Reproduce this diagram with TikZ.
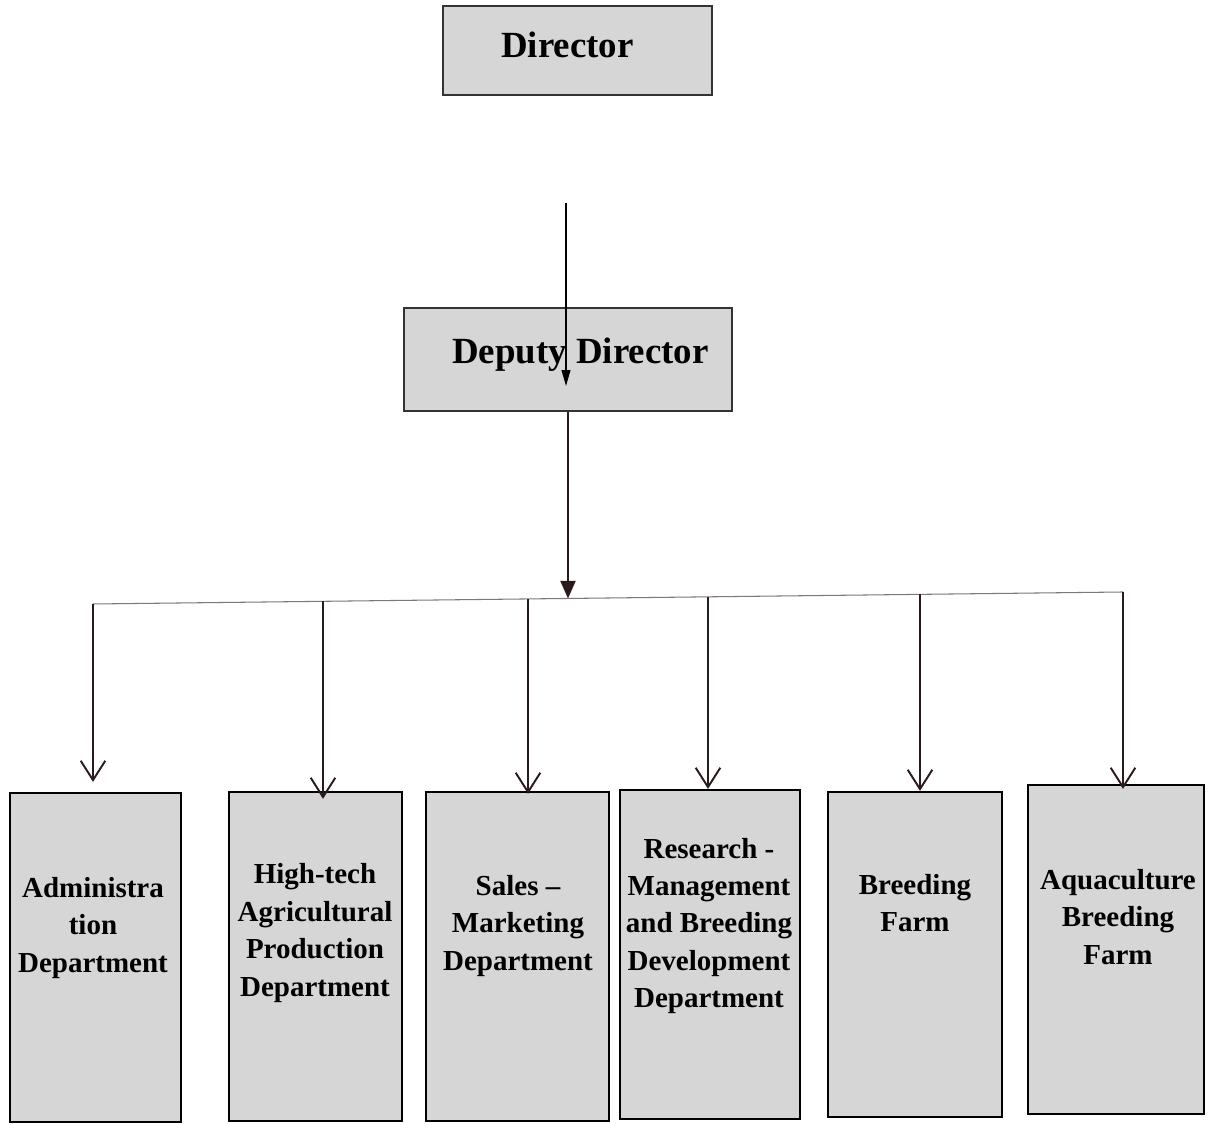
\documentclass[tikz,border=0pt]{standalone}
\usepackage{fontspec}
\setmainfont{Liberation Serif}
\usepackage{xcolor}
\definecolor{boxgray}{HTML}{D6D6D6}
\definecolor{linegray}{HTML}{7A7A7A}
\definecolor{darkline}{HTML}{2A1A1C}
\usepackage{tikz}
\usetikzlibrary{arrows.meta}
\usetikzlibrary{positioning}

\begin{document}
\begin{tikzpicture}[x=.02cm,y=-.02cm,
  headbox/.style={draw=black!80,line width=.8pt,fill=boxgray,inner sep=0pt,font=\bfseries\fontsize{21}{25}\selectfont},
  deptbox/.style={draw=black,line width=1.3pt,fill=boxgray,inner sep=0pt},
  depttext/.style={align=center,inner sep=0pt,font=\bfseries\fontsize{16.5}{21.3}\selectfont},
  branch/.style={darkline,line width=1.1pt,-{Straight Barb[length=11pt,width=14pt,line width=1.1pt]}}]
\useasboundingbox (0,0) rectangle (1208,1124);
\node[headbox,minimum width=5.38cm,minimum height=1.78cm] (dir) at (577.5,50.5) {\raisebox{7pt}{Director}\hspace*{.4cm}};
\node[headbox,minimum width=6.56cm,minimum height=2.06cm] (dep) at (568,359.5) {\hspace*{.5cm}\raisebox{10pt}{Deputy Director}};
\coordinate (top) at (566,203);
\coordinate (depin) at (566,386);
\coordinate (hub) at (568,598.5);
\coordinate (b1) at (93,604);
\coordinate (b2) at (323,601.3);
\coordinate (b3) at (528,598.9);
\coordinate (b4) at (708,596.8);
\coordinate (b5) at (920,594.4);
\coordinate (b6) at (1123,592);
\node[deptbox,minimum width=3.42cm,minimum height=6.58cm] (adm) at (95.5,957.5) {};
\node[deptbox,minimum width=3.46cm,minimum height=6.58cm] (hitech) at (315.5,956.5) {};
\node[deptbox,minimum width=3.66cm,minimum height=6.58cm] (sales) at (517.5,956.5) {};
\node[deptbox,minimum width=3.6cm,minimum height=6.58cm] (research) at (710,954.5) {};
\node[deptbox,minimum width=3.48cm,minimum height=6.5cm] (breed) at (915,954.5) {};
\node[deptbox,minimum width=3.52cm,minimum height=6.58cm] (aqua) at (1116,949.5) {};
\node[depttext] (admtxt) at (93,928) {Administra\\tion\\Department};
\node[depttext] (hitechtxt) at (315,933) {High-tech\\Agricultural\\Production\\Department};
\node[depttext] (salestxt) at (518,926) {Sales --\\Marketing\\Department};
\node[depttext] (researchtxt) at (709,926) {Research -\\Management\\and Breeding\\Development\\Department};
\node[depttext] (breedtxt) at (915,903) {Breeding\\Farm};
\node[depttext] (aquatxt) at (1118,917) {Aquaculture\\Breeding\\Farm};
\draw[black,line width=.6pt,-{Triangle[length=9pt,width=5pt]}] (top) -- (depin);
\draw[darkline,line width=1.2pt,-{Triangle[length=10pt,width=8.5pt]}] (dep.south) -- (hub);
\draw[linegray,line width=.6pt] (b1) -- (b6);
\draw[branch,shorten >=.2cm] (b1) -- (b1 |- adm.north);
\draw[branch,shorten >=-.16cm] (b2) -- (b2 |- hitech.north);
\draw[branch,shorten >=-.06cm] (b3) -- (b3 |- sales.north);
\draw[branch] (b4) -- (b4 |- research.north);
\draw[branch] (b5) -- (b5 |- breed.north);
\draw[branch,shorten >=-.1cm] (b6) -- (b6 |- aqua.north);
\end{tikzpicture}
\end{document}
